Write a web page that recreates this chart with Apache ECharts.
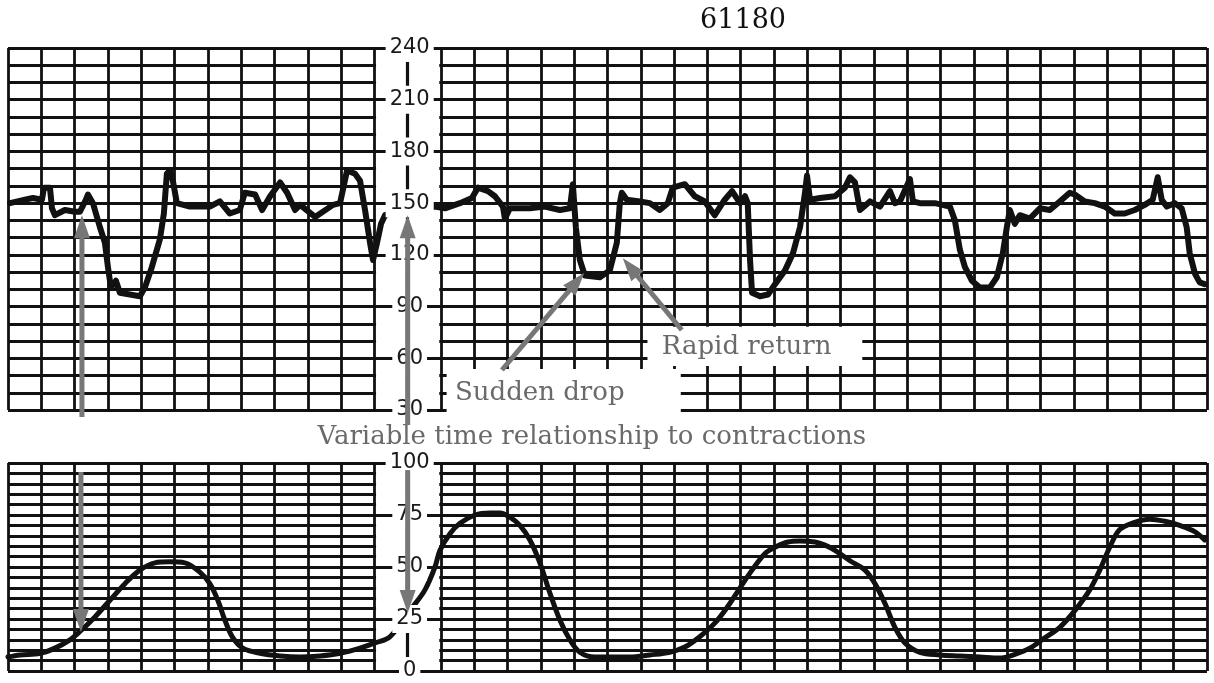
<!DOCTYPE html>
<html><head><meta charset="utf-8">
<script src="https://cdn.jsdelivr.net/npm/echarts@6/dist/echarts.min.js"></script>
<style>html,body{margin:0;padding:0;background:#fff}#c{width:1214px;height:683px}</style>
</head><body><div id="c"></div>
<script>
// ---- data (time in chart-paper divisions, 36 divisions wide) ----
const fhrTime = [0.06,0.51,0.75,1.02,1.08,1.26,1.32,1.41,1.71,2.01,2.16,2.34,2.40,2.55,2.76,2.91,3.00,3.09,3.24,3.36,3.66,3.96,4.11,4.32,4.56,4.68,4.77,4.86,4.95,5.07,5.46,6.06,6.36,6.66,6.96,7.11,7.42,7.63,7.87,8.17,8.38,8.62,8.77,9.22,9.76,9.97,10.18,10.42,10.57,10.72,10.87,10.96,11.08,11.20,11.32,11.47,12.82,13.12,13.57,13.93,14.11,14.41,14.62,14.86,14.92,15.07,15.67,16.12,16.57,16.87,16.96,17.05,17.17,17.32,17.77,18.07,18.28,18.37,18.43,18.58,18.97,19.27,19.57,19.81,19.96,20.32,20.62,20.92,21.22,21.52,21.74,21.98,22.13,22.21,22.28,22.34,22.58,22.82,23.03,23.33,23.57,23.78,23.93,23.99,24.08,24.38,24.83,25.13,25.28,25.43,25.58,25.88,26.18,26.48,26.63,26.78,27.08,27.17,27.38,27.83,28.28,28.43,28.58,28.73,28.94,29.18,29.48,29.69,29.87,29.99,30.08,30.23,30.38,30.68,30.98,31.28,31.58,31.88,32.03,32.33,32.63,32.93,33.23,33.53,33.83,34.13,34.37,34.52,34.64,34.79,35.03,35.24,35.39,35.48,35.64,35.78,35.93];
const fhrBpm = [150,152,153,152,159,159,147,143,146,145,145,152,155,150,136,127,113,101,105,98,97,96,101,113,129,144,167,169,163,150,148,148,151,144,146,156,155,146,154,162,156,146,149,142,149,150,169,167,163,146,127,117,127,138,143,144,148,147,150,153,159,157,154,148,141,147,147,148,146,147,161,136,117,108,107,111,127,150,156,152,151,150,146,150,159,161,154,151,143,152,157,150,154,150,117,98,96,97,103,111,121,136,156,166,152,153,154,159,165,162,146,151,148,157,150,151,164,151,150,150,148,140,123,113,105,101,101,107,121,136,146,138,143,141,147,146,151,156,155,151,150,148,144,144,146,149,152,165,152,148,150,147,136,121,109,104,103];
const tocoTime = [0,0.36,0.96,1.41,1.86,2.16,2.61,3.06,3.51,3.96,4.41,4.86,5.31,5.76,6.06,6.30,6.51,6.75,7.05,7.57,8.17,8.77,9.37,9.97,10.57,11.02,11.47,12.16,12.52,12.82,12.97,13.27,13.57,14.02,14.47,14.77,15.07,15.37,15.67,15.97,16.27,16.57,16.87,17.17,17.62,18.07,18.67,19.27,19.87,20.32,20.77,21.22,21.61,21.98,22.34,22.73,23.03,23.42,23.78,24.23,24.53,24.83,25.28,25.73,26.03,26.33,26.63,26.93,27.38,27.98,28.58,29.18,29.78,30.23,30.68,31.13,31.58,32.03,32.48,32.78,33.08,33.38,33.83,34.28,34.73,35.18,35.63,35.93];
const tocoValue = [6.7,7.7,8.5,11,15,19,26,34,42,48.5,52,52.5,52,47.5,42,34,24.5,16,11,8.5,7.2,6.7,7.2,8.5,11,13.5,16.5,31,39,50,58,66,71,75,76,76,74,70,63,52,37.5,24.5,15,9,6.7,6.7,6.7,7.7,9,11.5,16.5,23,31,40,48.5,56.5,59.5,62,62.5,62,60.5,58,53,48.5,42,32.5,21,13.5,9,7.7,7.2,6.7,6.2,8,11,16,21,29,39,48.5,59.5,68,71.5,73,72,70,67,63];
const fhrTickLabels = [30, 60, 90, 120, 150, 180, 210, 240];
const tocoTickLabels = [0, 25, 50, 75, 100];
const chartTitle = '61180';
const noteMain = 'Variable time relationship to contractions';
const noteDrop = 'Sudden drop';
const noteReturn = 'Rapid return';

// ---- layout / style ----
const INK = '#111111', GREY = '#777777', GW = 2.8;
const GL = 8, GR = 7, TOTAL = 36, AXIS_AT = 12;
const gridWidth = 1214 - GL - GR;
const axisOff = -(AXIS_AT / TOTAL) * gridWidth;

const fhrMin = fhrTickLabels[0], fhrMax = fhrTickLabels[fhrTickLabels.length - 1];
const tocoMin = tocoTickLabels[0], tocoMax = tocoTickLabels[tocoTickLabels.length - 1];

function xAx(g) {
  return { gridIndex: g, type: 'value', min: 0, max: TOTAL, interval: 1,
    axisLine: { show: false }, axisTick: { show: false }, axisLabel: { show: false },
    splitLine: { show: true, lineStyle: { color: INK, width: GW } } };
}
function gridAx(g, min, max, step) {
  return { gridIndex: g, type: 'value', min, max, interval: step, z: 0,
    axisLine: { show: false }, axisTick: { show: false }, axisLabel: { show: false },
    splitLine: { show: true, lineStyle: { color: INK, width: GW } } };
}
function labelAx(g, min, max, step) {
  return { gridIndex: g, type: 'value', min, max, interval: step, position: 'left', offset: axisOff, z: 4,
    axisLine: { show: true, onZero: false, lineStyle: { color: INK, width: GW + 0.4 } },
    axisTick: { show: false }, splitLine: { show: false },
    axisLabel: { show: true, align: 'center', margin: -2, color: '#1a1a1a',
      fontFamily: 'DejaVu Sans', fontSize: 21, lineHeight: 24,
      backgroundColor: '#ffffff', padding: [2, 4] } };
}
function tickAx(g, min, max, step, inside) {
  return { gridIndex: g, type: 'value', min, max, interval: step, position: 'left', offset: axisOff, z: 3,
    axisLine: { show: false, onZero: false }, splitLine: { show: false }, axisLabel: { show: false },
    axisTick: { show: true, inside, length: gridWidth / TOTAL, lineStyle: { color: INK, width: GW } } };
}

const chart = echarts.init(document.getElementById('c'), null, { renderer: 'canvas' });
const option = {
  backgroundColor: '#ffffff',
  animation: false,
  grid: [
    { left: GL, right: GR, top: 48, height: 362, outerBoundsMode: 'none', containLabel: false },
    { left: GL, right: GR, top: 463, height: 208, outerBoundsMode: 'none', containLabel: false }
  ],
  xAxis: [xAx(0), xAx(1)],
  yAxis: [
    gridAx(0, fhrMin, fhrMax, 10),
    labelAx(0, fhrMin, fhrMax, 30),
    tickAx(0, fhrMin, fhrMax, 30, false),
    tickAx(0, fhrMin, fhrMax, 30, true),
    gridAx(1, tocoMin, tocoMax, 5),
    labelAx(1, tocoMin, tocoMax, 25),
    tickAx(1, tocoMin, tocoMax, 25, false),
    tickAx(1, tocoMin, tocoMax, 25, true)
  ],
  series: [
    { type: 'line', name: 'FHR', xAxisIndex: 0, yAxisIndex: 0, z: 2,
      data: fhrTime.map((t, i) => [t, fhrBpm[i]]), showSymbol: false, symbol: 'none',
      lineStyle: { color: '#111111', width: 6, join: 'round', cap: 'round' } },
    { type: 'line', name: 'UC', xAxisIndex: 1, yAxisIndex: 4, z: 2, smooth: 0.35,
      data: tocoTime.map((t, i) => [t, tocoValue[i]]), showSymbol: false, symbol: 'none',
      lineStyle: { color: '#111111', width: 5, join: 'round', cap: 'round' } }
  ]
};
chart.setOption(option);

// ---- annotations, positioned through the axes ----
const pTop = (p) => chart.convertToPixel({ xAxisIndex: 0, yAxisIndex: 0 }, p);
const pBot = (p) => chart.convertToPixel({ xAxisIndex: 1, yAxisIndex: 4 }, p);

function rectBetween(a, b, z, inset) {
  const x1 = Math.min(a[0], b[0]) + inset, x2 = Math.max(a[0], b[0]) - inset;
  const y1 = Math.min(a[1], b[1]), y2 = Math.max(a[1], b[1]);
  return { type: 'rect', z, silent: true, shape: { x: x1, y: y1 - 3, width: x2 - x1, height: y2 - y1 + 6 },
    style: { fill: '#ffffff' } };
}
function arrow(p0, p1) {
  const dx = p1[0] - p0[0], dy = p1[1] - p0[1], L = Math.hypot(dx, dy);
  const ux = dx / L, uy = dy / L, hl = 23, hw = 8;
  const bx = p1[0] - ux * hl, by = p1[1] - uy * hl;
  return [
    { type: 'polyline', z: 10, silent: true,
      shape: { points: [p0, [p1[0] - ux * hl * 0.7, p1[1] - uy * hl * 0.7]] },
      style: { stroke: GREY, lineWidth: 5, fill: null } },
    { type: 'polygon', z: 10, silent: true,
      shape: { points: [p1, [bx - uy * hw, by + ux * hw], [bx + uy * hw, by - ux * hw]] },
      style: { fill: GREY } }
  ];
}
function text(p, str, size, color, align, family) {
  return { type: 'text', z: 9, silent: true, x: p[0], y: p[1],
    style: { text: str, font: size + 'px "' + family + '"', fill: color,
      align, verticalAlign: 'middle', textAlign: align, textVerticalAlign: 'middle' } };
}

const els = [];
els.push(rectBetween(pTop([AXIS_AT - 1, fhrMax]), pTop([AXIS_AT + 1, fhrMin]), 1, GW / 2 + 0.3));
els.push(rectBetween(pBot([AXIS_AT - 1, tocoMax]), pBot([AXIS_AT + 1, tocoMin]), 1, GW / 2 + 0.3));
els.push(rectBetween(pTop([13.17, 52]), pTop([20.2, 27.3]), 1, 0));
els.push(rectBetween(pTop([19.2, 76.5]), pTop([25.65, 57.3]), 1, 0));
els.push(text(pTop([13.42, 39.8]), noteDrop, 26, '#6a6a6a', 'left', 'DejaVu Serif'));
els.push(text(pTop([19.63, 66.6]), noteReturn, 26, '#6a6a6a', 'left', 'DejaVu Serif'));
els.push(text(pTop([17.53, 14.3]), noteMain, 26, '#6a6a6a', 'center', 'DejaVu Serif'));
els.push(text(pTop([22.07, 255.5]), chartTitle, 27, '#111111', 'center', 'DejaVu Serif'));
els.push(...arrow(pTop([2.22, 26]), pTop([2.22, 143])));
els.push(...arrow(pBot([2.19, 95.7]), pBot([2.19, 18.7])));
els.push(...arrow(pTop([AXIS_AT, 21.3]), pTop([AXIS_AT, 143])));
els.push(...arrow(pBot([AXIS_AT, 96.6]), pBot([AXIS_AT, 27.9])));
els.push(...arrow(pTop([14.83, 53.2]), pTop([17.3, 109.5])));
els.push(...arrow(pTop([20.23, 76.4]), pTop([18.46, 118])));

chart.setOption({ graphic: { elements: els } });
</script>
</body></html>
